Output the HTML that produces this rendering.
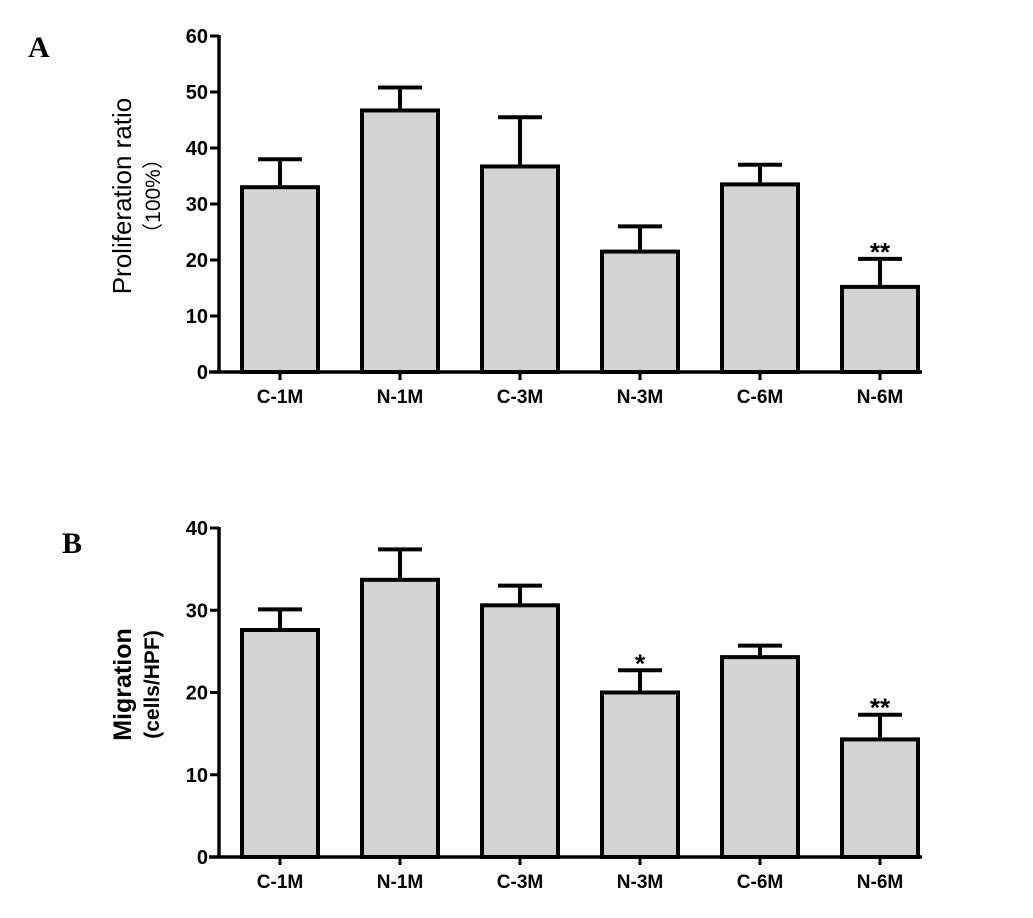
<!DOCTYPE html>
<html><head><meta charset="utf-8"><style>
body{margin:0;background:#fff;}
svg{display:block;font-family:"Liberation Sans",Arial,sans-serif;}
</style></head><body>
<svg id="c" width="1033" height="918" viewBox="0 0 1033 918">
<text x="28" y="57" font-family="Liberation Serif,serif" font-weight="bold" font-size="30">A</text>
<text x="62" y="553" font-family="Liberation Serif,serif" font-weight="bold" font-size="30">B</text>
</svg>
<script>
const categories=["C-1M","N-1M","C-3M","N-3M","C-6M","N-6M"];
const valuesA=[33,46.7,36.7,21.5,33.5,15.2];
const errorsA=[38,50.8,45.5,26,37,20.2];
const ticksA=[0,10,20,30,40,50,60];
const starsA=["","","","","","**"];
const valuesB=[27.6,33.7,30.6,20,24.3,14.3];
const errorsB=[30.1,37.4,33,22.7,25.7,17.3];
const ticksB=[0,10,20,30,40];
const starsB=["","","","*","","**"];
const svg=document.getElementById('c');
const NS='http://www.w3.org/2000/svg';
function mk(tag,attrs,parent){const e=document.createElementNS(NS,tag);for(const k in attrs)e.setAttribute(k,attrs[k]);(parent||svg).appendChild(e);return e;}
function panel(id,vals,errs,ticks,stars,y0,y1,vmax,titleLines,titleBold,sizes,xs){
 const g=mk('g',{});
 
 
 const ax=219,xEnd=922;
 const yS=v=>y0-(v/vmax)*(y0-y1);
 const xC=i=>280+i*120;
 vals.forEach((v,i)=>{
  const top=yS(v),et=yS(errs[i]);
  const l=mk('line',{x1:xC(i),x2:xC(i),y1:top,y2:et,stroke:'#000','stroke-width':4},g);
  
  
  const cap=mk('line',{x1:xC(i)-22,x2:xC(i)+22,y1:et,y2:et,stroke:'#000','stroke-width':4},g);
  
  
  const r=mk('rect',{x:xC(i)-38,y:top,width:76,height:y0-top,fill:'#d4d4d4',stroke:'#000','stroke-width':4},g);
  
  
  if(stars[i]){const s=mk('text',{x:xC(i),y:et+2,'text-anchor':'middle','font-size':26,'font-weight':'bold'},g);s.textContent=stars[i];
   
   }
  const tk=mk('line',{x1:xC(i),x2:xC(i),y1:y0,y2:y0+8,stroke:'#000','stroke-width':3},g);
  
  
  const t=mk('text',{x:xC(i),y:y0+31,'text-anchor':'middle','font-size':19,'font-weight':'bold'},g);t.textContent=categories[i];
  
  
 });
 const ya=mk('line',{x1:ax,x2:ax,y1:y1-1,y2:y0+1,stroke:'#000','stroke-width':3.5},g);
 
 
 const xa=mk('line',{x1:ax-10,x2:xEnd,y1:y0,y2:y0,stroke:'#000','stroke-width':3.5},g);
 
 
 ticks.forEach(v=>{
  const tk=mk('line',{x1:ax-9,x2:ax,y1:yS(v),y2:yS(v),stroke:'#000','stroke-width':3},g);
  
  
  const t=mk('text',{x:ax-11,y:yS(v)+7,'text-anchor':'end','font-size':20,'font-weight':'bold'},g);t.textContent=v;
  
  
 });
 const cy=(y0+y1)/2;
 titleLines.forEach((s,k)=>{
  const x=xs[k];
  const t=mk('text',{x:x,y:cy-8,'text-anchor':'middle','font-size':sizes[k],'font-weight':titleBold?'bold':'normal',transform:'rotate(-90 '+x+' '+(cy-8)+')'},g);
  t.textContent=s;
  
  
 });
}
panel('panel-a',valuesA,errorsA,ticksA,starsA,372,36,60,["Proliferation ratio","（100%）"],false,[26,21],[131,160]);
panel('panel-b',valuesB,errorsB,ticksB,starsB,857,528,40,["Migration","(cells/HPF)"],true,[25,21],[131,159]);
</script>
</body></html>
